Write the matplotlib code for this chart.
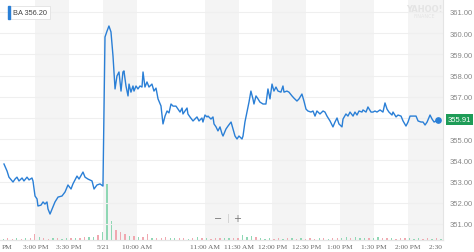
import numpy as np
import matplotlib
matplotlib.use('Agg')
import matplotlib.pyplot as plt
from matplotlib.patches import Rectangle
from matplotlib.transforms import Bbox

# minutes since 2:30 PM on 5/20; the 5/21 session opens at minute 90
price_min = [2.2, 4.9, 6.6, 10.2, 12.0, 13.7, 15.5, 18.2, 19.9, 22.6, 24.4, 27.0, 27.9,
             29.7, 31.5, 32.3, 35.0, 36.8, 38.5, 40.3, 41.2, 43.0, 45.6, 47.4, 50.1,
             53.6, 56.3, 58.9, 61.6, 63.3, 66.9, 68.7, 72.2, 74.0, 76.6, 80.2, 82.0,
             84.6, 87.3, 89.9,
             91.7, 93.5, 95.2, 97.0, 98.8, 100.6, 102.3, 104.1, 105.9, 107.6, 108.5,
             110.3, 112.1, 113.0, 114.7, 116.5, 117.4, 119.2, 120.9, 122.7, 124.5,
             125.4, 127.1, 128.9, 130.7, 133.3, 135.1, 136.9, 138.7, 141.3, 143.1,
             144.9, 146.7, 148.4, 150.2, 152.0, 154.6, 156.4, 158.2, 160.0, 160.8,
             162.6, 164.4, 165.2, 167.0, 169.7, 173.2, 175.0, 177.6, 178.5, 180.3,
             182.1, 183.0, 185.6, 187.4, 188.3, 190.1, 191.8, 193.6, 195.4, 196.3,
             198.9, 200.7, 203.4, 205.1, 206.9, 208.7, 210.4, 213.1, 214.0, 215.7,
             217.5, 219.3, 221.0, 222.8, 223.7, 225.5, 227.3, 229.0, 231.7, 234.3,
             236.1, 237.9, 239.7, 241.4, 243.2, 245.0, 247.6, 249.4, 250.3, 252.9,
             254.7, 257.4, 259.1, 261.8, 263.6, 266.2, 268.0, 269.8, 271.5, 274.2,
             276.0, 277.8, 279.5, 282.2, 284.9, 286.6, 288.4, 291.1, 293.7, 295.5,
             297.3, 299.0, 301.7, 302.6, 305.2, 307.0, 308.8, 311.5, 313.2, 315.0,
             316.8, 319.4, 320.3, 323.0, 324.7, 327.4, 329.2, 330.9, 332.7, 335.4,
             338.0, 339.8, 341.6, 343.3, 346.0, 346.9, 349.6, 351.3, 354.0, 355.8,
             358.4, 360.2, 362.0, 364.6, 367.3, 369.1, 371.7, 373.5, 375.3, 377.1,
             379.7, 381.5, 383.3, 385.1, 386.8]
price = [353.83, 353.50, 353.21, 352.98, 353.12, 353.21, 353.03, 353.17, 353.03, 353.21,
         353.08, 353.17, 353.03, 352.32, 352.18, 351.85, 351.89, 352.04, 351.94, 352.04,
         351.71, 351.47, 351.80, 352.04, 352.27, 352.32, 352.51, 352.84, 352.65, 352.89,
         353.26, 353.12, 353.45, 353.21, 353.12, 353.03, 352.65, 352.84, 352.89, 352.79,
         359.82, 360.10, 360.34, 360.06, 358.92, 357.37, 357.98, 358.17, 357.27, 358.17,
         358.22, 357.51, 357.04, 357.60, 357.22, 357.51, 357.27, 357.51, 357.37, 357.51,
         357.46, 358.17, 357.46, 357.70, 357.46, 357.60, 357.27, 357.41, 356.90, 356.57,
         355.72, 356.09, 356.33, 356.24, 356.66, 356.56, 356.56, 356.42, 356.28, 356.47,
         356.19, 356.33, 356.47, 356.19, 356.05, 355.86, 356.05, 355.86, 356.00, 355.81,
         356.14, 356.05, 356.09, 355.95, 356.05, 355.72, 355.58, 355.39, 355.58, 355.25,
         355.15, 355.48, 355.62, 355.81, 355.48, 355.15, 355.01, 355.15, 355.01, 355.15,
         355.81, 356.28, 356.75, 357.27, 356.90, 356.66, 357.04, 356.90, 356.75, 356.66,
         356.66, 357.37, 356.90, 357.60, 357.27, 357.46, 357.27, 357.22, 357.51, 357.22,
         357.27, 357.22, 357.04, 356.94, 356.80, 356.90, 357.13, 356.80, 356.42, 356.33,
         356.28, 356.33, 356.09, 356.33, 356.19, 356.33, 356.28, 356.09, 355.86, 355.58,
         355.81, 356.00, 355.72, 355.58, 355.95, 356.19, 356.09, 356.28, 356.09, 356.28,
         356.14, 356.33, 356.28, 356.38, 356.28, 356.52, 356.28, 356.28, 356.33, 356.28,
         356.38, 356.28, 356.71, 356.42, 356.28, 356.14, 356.28, 356.05, 356.14, 356.09,
         355.86, 355.62, 355.81, 356.09, 356.09, 356.09, 355.86, 355.81, 355.81, 355.67,
         355.81, 356.14, 355.95, 355.81, 355.86, 355.91]
last_price = 355.91
prev_label = 'BA 356.20'

# volume every 4 minutes (thousands of shares), g = up, r = down
vol = [30, 40, 25, 35, 30, 45, 40, 130, 60, 35, 30, 40, 35, 30, 45, 40, 50, 45, 60, 55,
       70, 110, 180,
       1200, 400, 220, 180, 120, 90, 80, 70, 60, 130, 50, 45, 40, 60, 45, 40, 35, 40,
       30, 35, 70, 35, 40, 30, 45, 40, 50, 35, 45, 40, 100, 60, 80, 55, 40, 30, 35, 30,
       45, 30, 35, 40, 30, 35, 30, 40, 30, 35, 40, 30, 45, 35, 40, 60, 50, 70, 45, 40,
       35, 45, 55, 40, 35, 40, 30, 35, 45, 40, 30, 35, 30, 40, 30, 35, 30]
vol_dir = list('grrgrgrrgrrgrgg' 'rgrrggrg'
               'ggrrrgrgrrgrrrggrrgrgrgrrrggrrgggrgggrrgrgrgrrrgrgrrggrgggrggrrgrrrgggrrgrgg')

tick_min = [0, 30, 60, 90, 120, 180, 210, 240, 270, 300, 330, 360, 390]
tick_labels = ['PM', '3:00 PM', '3:30 PM', '5/21', '10:00 AM', '11:00 AM', '11:30 AM',
               '12:00 PM', '12:30 PM', '1:00 PM', '1:30 PM', '2:00 PM', '2:30 PM']
band_start = [30, 90, 180, 240, 300, 360]
band_end = [60, 120, 210, 270, 330, 395]
price_ticks = [351, 352, 353, 354, 355, 356, 357, 358, 359, 360, 361]

W, H = 474, 253
fig = plt.figure(figsize=(W / 100, H / 100), dpi=100)
axv = fig.add_axes([0, 12 / H, 443 / W, 241 / H])
ax = axv.twinx()

for s, e in zip(band_start, band_end):
    axv.axvspan(s, e, color='#f4f4f4', lw=0, zorder=0)

n = min(len(vol), len(vol_dir))
vol_min = np.arange(n) * 4
cols = ['#8fd7b4' if d == 'g' else '#f0a8b0' for d in vol_dir[:n]]
axv.bar(vol_min + 1.5, vol[:n], width=1.2, color=cols, zorder=2)
axv.set_ylim(0, 5200)
axv.set_yticks([])
axv.set_xlim(-1.33, 391.2)

ax.set_ylim(350.245, 361.613)
for p in price_ticks:
    ax.axhline(p, color='#efefef', lw=0.8, zorder=1)
ax.plot(price_min, price, color='#2a7fd6', lw=1.0, zorder=3)
ax.plot(price_min[-1], price[-1], 'o', color='#2a7fd6', ms=3.8, zorder=4)

ax.set_yticks(price_ticks)
ax.set_yticklabels(['' if p == 356 else f'{p:.2f}' for p in price_ticks],
                   fontsize=5.5, color='#888888', family='Liberation Sans')
ax.tick_params(axis='y', length=0, pad=5)

axv.set_xticks(tick_min)
axv.set_xticklabels(tick_labels, fontsize=5.3, color='#666666', family='Liberation Serif')
axv.tick_params(axis='x', length=0, pad=3)
axv.get_xticklabels()[0].set_horizontalalignment('left')

for sp in ['top', 'left']:
    ax.spines[sp].set_visible(False)
    axv.spines[sp].set_visible(False)
ax.spines['right'].set_color('#e4e4e4')
ax.spines['bottom'].set_color('#e4e4e4')
axv.spines['right'].set_visible(False)
axv.spines['bottom'].set_color('#e4e4e4')

# current price tag
ax.text(1.01, last_price, f'{last_price:.2f}', transform=ax.get_yaxis_transform(),
        ha='left', va='center', fontsize=5.5, color='white', family='Liberation Sans',
        bbox=dict(boxstyle='square,pad=0.25', fc='#1e9c57', ec='none'))

# clip the last time label at the right edge of the plot
fig.canvas.draw()
clip = Bbox.from_extents(0, 0, 443, H)
for lbl in axv.get_xticklabels():
    lbl.set_clip_box(clip)
    lbl.set_clip_on(True)

# symbol label top-left
fig.text(13 / W, 1 - 13.5 / H, prev_label, fontsize=5.3, color='#444444',
         family='Liberation Sans', va='center', ha='left',
         bbox=dict(boxstyle='square,pad=0.35', fc='white', ec='#e2e2e2', lw=0.6))
fig.patches.append(Rectangle((8 / W, 1 - 20 / H), 2 / W, 13 / H,
                             transform=fig.transFigure, color='#2a7fd6', zorder=5))

# zoom controls
fig.text(218 / W, 1 - 219 / H, '\u2212', fontsize=7, color='#777777', ha='center', va='center')
fig.text(228 / W, 1 - 219 / H, '|', fontsize=6, color='#cccccc', ha='center', va='center')
fig.text(237 / W, 1 - 219 / H, '+', fontsize=7, color='#777777', ha='center', va='center')

# watermark
fig.text(424 / W, 1 - 9 / H, 'YAHOO!', fontsize=6, color='#e4e4e4', ha='center',
         va='center', weight='bold')
fig.text(424 / W, 1 - 17 / H, 'FINANCE', fontsize=3.5, color='#e4e4e4', ha='center',
         va='center')

fig.savefig('out.png', dpi=100)
